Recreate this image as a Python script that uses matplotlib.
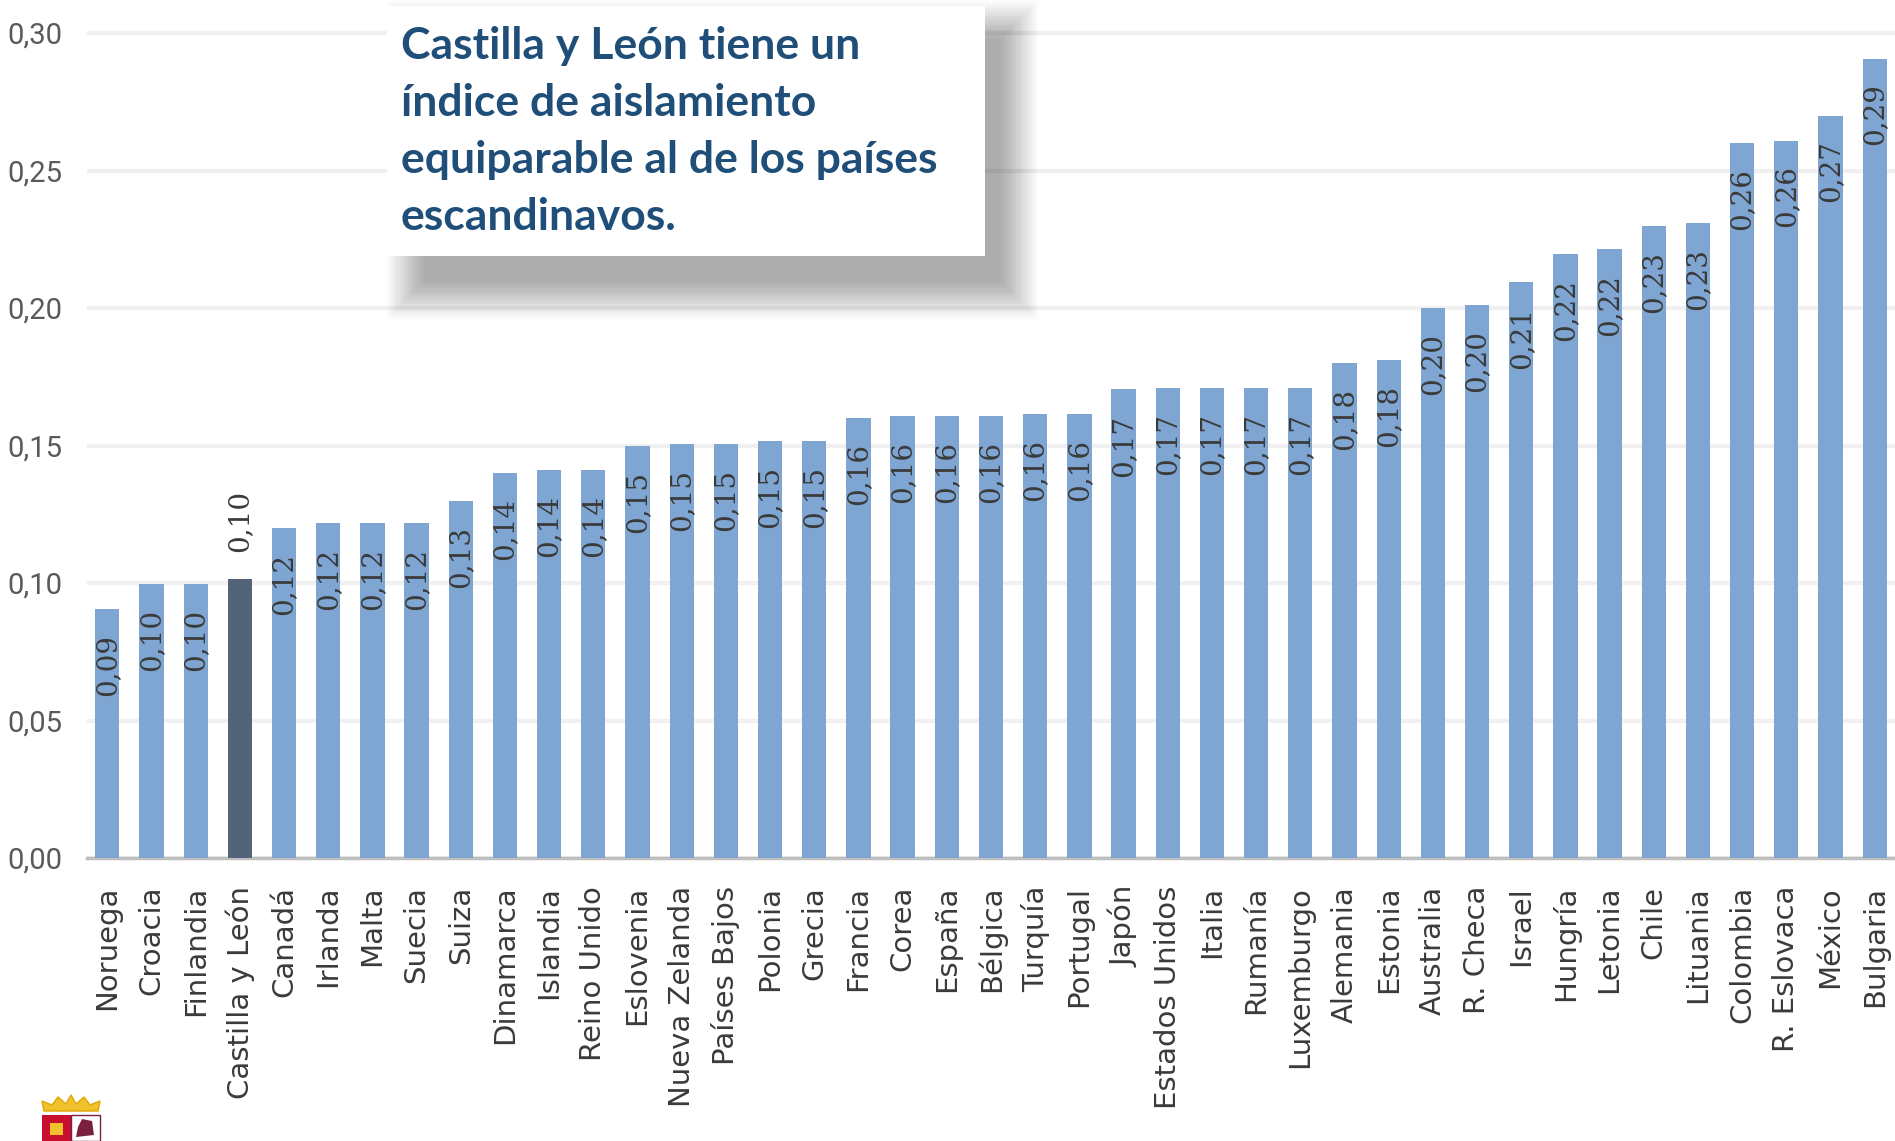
import matplotlib

matplotlib.use("Agg")
import matplotlib.pyplot as plt
from matplotlib.patches import Rectangle, Polygon
from matplotlib.ticker import FixedLocator, FuncFormatter

# índice de aislamiento por país
paises = [
    "Noruega", "Croacia", "Finlandia", "Castilla y León", "Canadá", "Irlanda",
    "Malta", "Suecia", "Suiza", "Dinamarca", "Islandia", "Reino Unido",
    "Eslovenia", "Nueva Zelanda", "Países Bajos", "Polonia", "Grecia",
    "Francia", "Corea", "España", "Bélgica", "Turquía", "Portugal", "Japón",
    "Estados Unidos", "Italia", "Rumanía", "Luxemburgo", "Alemania", "Estonia",
    "Australia", "R. Checa", "Israel", "Hungría", "Letonia", "Chile",
    "Lituania", "Colombia", "R. Eslovaca", "México", "Bulgaria",
]
valores = [
    0.0905, 0.0997, 0.0997, 0.1015, 0.1199, 0.1217, 0.1217, 0.1217, 0.130,
    0.140, 0.141, 0.141, 0.1498, 0.1506, 0.1506, 0.1515, 0.1515, 0.160,
    0.1607, 0.1607, 0.1607, 0.1616, 0.1616, 0.1704, 0.1708, 0.1708, 0.1708,
    0.1708, 0.180, 0.181, 0.200, 0.201, 0.2095, 0.2196, 0.2213, 0.2297,
    0.231, 0.260, 0.2609, 0.270, 0.2907,
]
etiquetas = [
    "0,09", "0,10", "0,10", "0,10", "0,12", "0,12", "0,12", "0,12", "0,13",
    "0,14", "0,14", "0,14", "0,15", "0,15", "0,15", "0,15", "0,15", "0,16",
    "0,16", "0,16", "0,16", "0,16", "0,16", "0,17", "0,17", "0,17", "0,17",
    "0,17", "0,18", "0,18", "0,20", "0,20", "0,21", "0,22", "0,22", "0,23",
    "0,23", "0,26", "0,26", "0,27", "0,29",
]
destacado = "Castilla y León"
yticks = [0.0, 0.05, 0.10, 0.15, 0.20, 0.25, 0.30]
nota = "Castilla y León tiene un\níndice de aislamiento\nequiparable al de los países\nescandinavos."

W, H = 1895, 1141
AZUL = "#7FA6D2"
OSCURO = "#536379"
GRIS_TXT = "#3A3A3A"
FUENTE_VAL = ["DejaVu Serif"]


def fx(x):
    return x / W


def fy(y):
    return 1 - y / H


fig = plt.figure(figsize=(W / 100, H / 100), dpi=100)
ax = fig.add_axes([fx(87), fy(858), 1 - fx(87), 858 / H])

n = len(paises)
xs = list(range(n))
colores = [OSCURO if p == destacado else AZUL for p in paises]
ax.bar(xs, valores, width=0.55, color=colores, zorder=3)

for x, v, t, p in zip(xs, valores, etiquetas, paises):
    if p == destacado:
        ax.annotate(t, (x, v), xytext=(0, 19), textcoords="offset points",
                    rotation=90, ha="center", va="bottom", fontsize=20,
                    family=FUENTE_VAL, color=GRIS_TXT, zorder=4)
    else:
        ax.annotate(t, (x, v), xytext=(0, -18), textcoords="offset points",
                    rotation=90, ha="center", va="top", fontsize=20,
                    family=FUENTE_VAL, color=GRIS_TXT, zorder=4)

ax.set_xlim(-0.46, n - 1 + 0.46)
ax.set_ylim(0, 0.312)
ax.yaxis.set_major_locator(FixedLocator(yticks))
ax.yaxis.set_major_formatter(FuncFormatter(lambda v, _: f"{v:.2f}".replace(".", ",")))
ax.grid(axis="y", color="#F0F0F0", lw=3, zorder=0)
ax.set_axisbelow(True)

ax.set_xticks(xs)
ax.set_xticklabels(paises, rotation=90, fontsize=21, color=GRIS_TXT, va="top",
                   family="DejaVu Sans")
for lbl in ax.get_yticklabels():
    lbl.set_family("Roboto")
    lbl.set_fontsize(21)
    lbl.set_color("#5A5A5A")
ax.tick_params(axis="x", length=0, pad=20)
ax.tick_params(axis="y", length=0, pad=18)
for s in ("top", "right", "left"):
    ax.spines[s].set_visible(False)
ax.spines["bottom"].set_color("#BFBFBF")
ax.spines["bottom"].set_linewidth(2.5)

# recuadro con sombra difusa
bx0, bx1, by0, by1 = 387, 985, 6, 256
for i in range(22):
    r = 1 + i * 1.8
    dx, dy = 14, 24
    fig.patches.append(Rectangle(
        (fx(bx0 + dx - r + 25), fy(by1 + dy + r)),
        (bx1 - bx0 + 2 * r - 25) / W, (by1 - by0 + 2 * r - 10) / H,
        transform=fig.transFigure, facecolor="black", alpha=0.016,
        edgecolor="none", zorder=10))
fig.patches.append(Rectangle((fx(bx0), fy(by1)), (bx1 - bx0) / W, (by1 - by0) / H,
                             transform=fig.transFigure, facecolor="white",
                             edgecolor="none", zorder=11))
fig.text(fx(401), fy(26), nota, ha="left", va="top", fontsize=32,
         fontweight="bold", family="Lato", color="#1F4E79", linespacing=1.52,
         zorder=12)

# escudo (esquema)
lg = fig.add_axes([fx(38), 0, 66 / W, 50 / H])
lg.set_xlim(0, 66)
lg.set_ylim(0, 50)
lg.axis("off")
lg.add_patch(Polygon([[6, 30], [60, 30], [62, 40], [52, 36], [46, 44], [38, 37],
                      [33, 46], [28, 37], [20, 44], [14, 36], [4, 40]],
                     closed=True, facecolor="#F2C12E", edgecolor="#E0A800", lw=1))
lg.add_patch(Rectangle((4, 0), 29, 26, facecolor="#C8102E", edgecolor="none"))
lg.add_patch(Rectangle((33, 0), 29, 26, facecolor="white", edgecolor="#7A1F3D", lw=1))
lg.add_patch(Rectangle((12, 6), 13, 12, facecolor="#F2C12E", edgecolor="none"))
lg.add_patch(Polygon([[38, 4], [56, 6], [54, 20], [44, 22], [40, 14]], closed=True,
                     facecolor="#7A1F3D", edgecolor="none"))

fig.savefig("out.png", dpi=100)
